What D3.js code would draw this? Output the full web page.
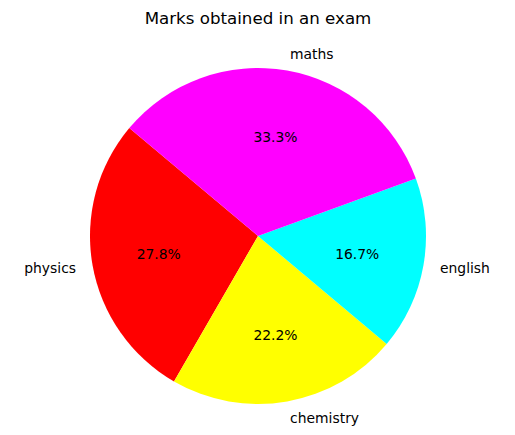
<!DOCTYPE html>
<html><head><meta charset="utf-8">
<script src="https://cdn.jsdelivr.net/npm/d3@7"></script>
<style>body{margin:0;background:#fff}svg{display:block}</style>
</head><body>
<svg id="c" width="515" height="435"></svg>
<script>
const subjects = ["physics", "chemistry", "english", "maths"];
const marks = [50, 40, 30, 60];
const colors = ["red", "yellow", "cyan", "magenta"];
const title = "Marks obtained in an exam";

const W = 515, H = 435, cx = 258, cy = 236, R = 168;
const font = "DejaVu Sans, sans-serif";
const svg = d3.select("#c");
const startDeg = 140;
const a0 = Math.PI/2 - startDeg*Math.PI/180;
const pie = d3.pie().sort(null).value(d=>d).startAngle(a0).endAngle(a0 - 2*Math.PI);
const arcs = pie(marks);
const arc = d3.arc().innerRadius(0).outerRadius(R);
const g = svg.append("g").attr("transform", `translate(${cx},${cy})`);
const total = d3.sum(marks);
g.selectAll("path").data(arcs).join("path")
  .attr("d", arc).attr("fill", (d,i)=>colors[i]);
arcs.forEach((d,i)=>{
  const mid = (d.startAngle + d.endAngle)/2; // d3 angle, clockwise from top
  const x = Math.sin(mid), y = -Math.cos(mid);
  g.append("text").attr("x", x*R*0.6).attr("y", y*R*0.6)
    .attr("text-anchor","middle").attr("dominant-baseline","central")
    .attr("font-family", font).attr("font-size", 13.9).attr("fill","#000")
    .text((100*marks[i]/total).toFixed(1)+"%");
  g.append("text").attr("x", x*R*1.1).attr("y", y*R*1.1)
    .attr("text-anchor", x >= 0 ? "start" : "end").attr("dominant-baseline","central")
    .attr("font-family", font).attr("font-size", 13.9).attr("fill","#000")
    .text(subjects[i]);
});
svg.append("text").attr("x", cx).attr("y", 18).attr("text-anchor","middle")
  .attr("dominant-baseline","central").attr("font-family", font).attr("font-size", 16.67)
  .attr("fill","#000").text(title);
</script>
</body></html>
